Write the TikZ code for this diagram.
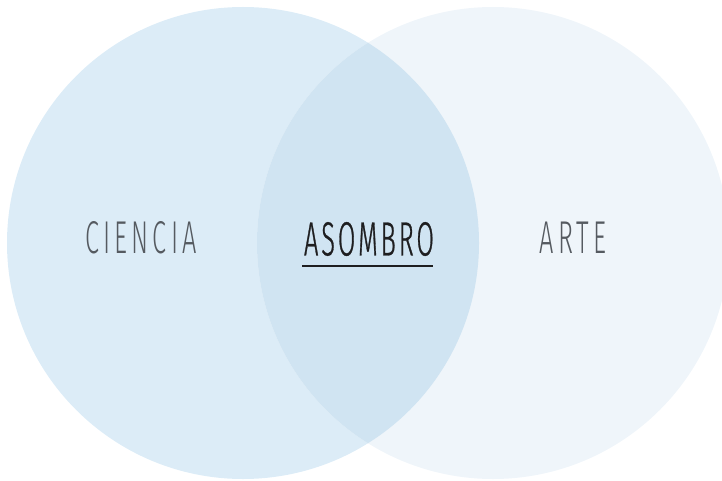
\documentclass[tikz,border=0pt]{standalone}
\usepackage{fontspec}
\usepackage{xcolor}
\usepackage{tikz}
\setmainfont{Fira Sans}[UprightFont={* Light},FakeStretch=0.55,LetterSpace=9]
\newfontfamily\asombrofont{Fira Sans}[UprightFont={* Light},FakeStretch=0.53,LetterSpace=6,FakeBold=0.6]

\definecolor{cienciablue}{RGB}{220,236,247}
\definecolor{arteblue}{RGB}{239,245,250}
\definecolor{asombroblue}{RGB}{208,228,242}
\definecolor{softgray}{RGB}{85,90,96}
\definecolor{darkink}{RGB}{30,30,32}

\begin{document}
\begin{tikzpicture}[x=1pt,y=-1pt]
\useasboundingbox (0,0) rectangle (722,481);
\fill[cienciablue] (243,243) circle (236);
\fill[arteblue] (493,243) circle (236);
\begin{scope}
\clip (243,243) circle (236);
\fill[asombroblue] (493,243) circle (236);
\end{scope}

\node[font=\fontsize{46}{46}\selectfont, text=softgray] (ciencia) at (141,238) {CIENCIA};
\node[font=\asombrofont\fontsize{48}{48}\selectfont, text=darkink] (asombro) at (369,239) {ASOMBRO};
\node[font=\fontsize{46}{46}\selectfont, text=softgray] (arte) at (573,238) {ARTE};
\draw[darkink, line width=2.6pt] (302,266) -- (433,266);
\end{tikzpicture}
\end{document}
